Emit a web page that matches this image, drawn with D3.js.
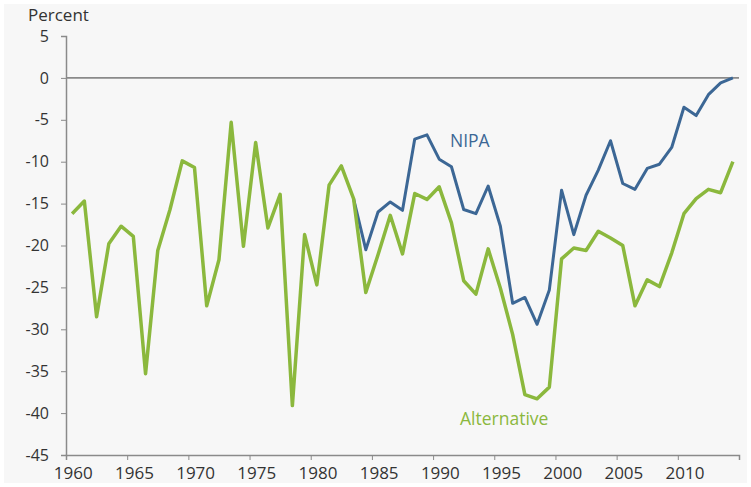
<!DOCTYPE html>
<meta charset="utf-8">
<style>
body { margin: 0; background: #fff; }
svg text { font-family: "Open Sans", "Noto Sans", sans-serif; fill: #333; }
</style>
<svg width="751" height="487"></svg>
<script src="https://cdn.jsdelivr.net/npm/d3@7"></script>
<script>

var years = d3.range(1960, 2015);

var alternative = [
  -16.2, -14.7, -28.5, -19.8, -17.7, -18.9, -35.3, -20.6, -15.7, -9.9,
  -10.7, -27.2, -21.7, -5.3, -20.1, -7.7, -17.9, -13.9, -39.1, -18.7,
  -24.7, -12.8, -10.5, -14.4, -25.6, -21.1, -16.4, -21.0, -13.8, -14.5,
  -13.0, -17.3, -24.2, -25.8, -20.4, -25.1, -30.6, -37.8, -38.3, -36.9,
  -21.6, -20.3, -20.6, -18.3, -19.1, -20.0, -27.2, -24.1, -24.9, -20.9,
  -16.2, -14.4, -13.3, -13.7, -10.0
];

var nipaYears = d3.range(1983, 2015);
var nipa = [
  -14.4, -20.5, -16.0, -14.8, -15.8, -7.3, -6.8, -9.7, -10.6, -15.7,
  -16.2, -12.9, -17.7, -26.9, -26.2, -29.4, -25.3, -13.4, -18.7, -14.0,
  -11.0, -7.5, -12.6, -13.3, -10.8, -10.3, -8.3, -3.5, -4.5, -2.0,
  -0.6, 0.0
];

var yTicks = [5, 0, -5, -10, -15, -20, -25, -30, -35, -40, -45];
var xTicks = [1960, 1965, 1970, 1975, 1980, 1985, 1990, 1995, 2000, 2005, 2010];

var svg = d3.select("svg");

svg.append("rect")
    .attr("x", 4).attr("y", 4)
    .attr("width", 743).attr("height", 479)
    .attr("fill", "#f7f7f7");

var x = d3.scaleLinear().domain([1960, 2015]).range([66, 739]);
var y = d3.scaleLinear().domain([-45, 5]).range([455, 36]);

// plain hyphen, not the unicode minus d3 uses
function plain(d) { return String(d); }

// y axis
var yAxis = svg.append("g")
    .attr("transform", "translate(66,0)")
    .call(d3.axisLeft(y).tickValues(yTicks).tickFormat(plain).tickSize(5).tickPadding(12));
yAxis.select(".domain").attr("stroke", "#8a8a8a").attr("stroke-width", 1.5);
yAxis.selectAll(".tick line").attr("stroke", "#8a8a8a");
yAxis.selectAll(".tick text").attr("fill", "#333").attr("font-size", 16).attr("font-family", null);

// x axis, labels sit in the middle of the year
var xAxis = svg.append("g")
    .attr("transform", "translate(0,455)")
    .call(d3.axisBottom(x).tickValues(xTicks).tickFormat(plain).tickSize(5).tickPadding(7));
xAxis.select(".domain").attr("stroke", "#8a8a8a").attr("stroke-width", 1.5);
xAxis.selectAll(".tick line").attr("stroke", "#8a8a8a");
xAxis.selectAll(".tick text")
    .attr("fill", "#333")
    .attr("font-size", 17)
    .attr("font-family", null)
    .attr("dx", x(1960.55) - x(1960));

// zero line
svg.append("line")
    .attr("x1", x(1960)).attr("x2", x(2015))
    .attr("y1", y(0)).attr("y2", y(0))
    .attr("stroke", "#8a8a8a")
    .attr("stroke-width", 1.8);

svg.append("text")
    .attr("x", 28).attr("y", 21)
    .attr("font-size", 17)
    .text("Percent");

var line = d3.line()
    .x(function(d) { return x(d[0] + 0.5); })
    .y(function(d) { return y(d[1]); });

svg.append("path")
    .datum(d3.zip(nipaYears, nipa))
    .attr("d", line)
    .attr("fill", "none")
    .attr("stroke", "#3c6795")
    .attr("stroke-width", 3)
    .attr("stroke-linejoin", "round");

svg.append("path")
    .datum(d3.zip(years, alternative))
    .attr("d", line)
    .attr("fill", "none")
    .attr("stroke", "#8bb83d")
    .attr("stroke-width", 3.5)
    .attr("stroke-linejoin", "round");

svg.append("text")
    .attr("x", 450).attr("y", 147)
    .attr("font-size", 17.5)
    .style("fill", "#3c6795")
    .text("NIPA");

svg.append("text")
    .attr("x", 460).attr("y", 425)
    .attr("font-size", 17.5)
    .style("fill", "#8bb83d")
    .text("Alternative");

</script>
